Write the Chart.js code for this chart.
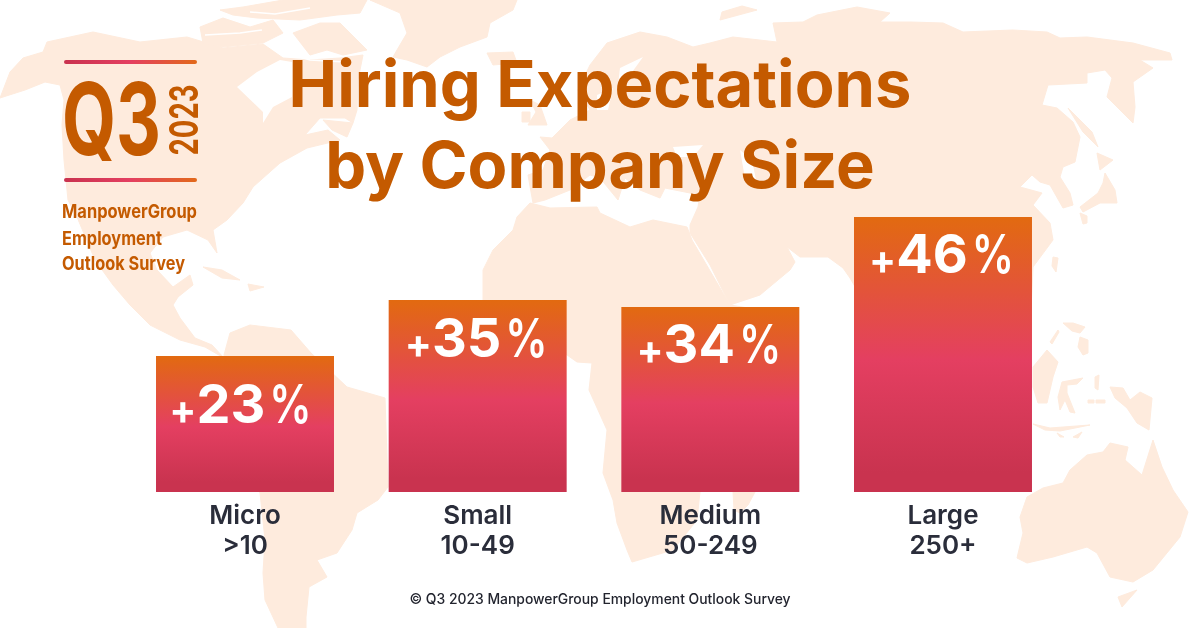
<!DOCTYPE html>
<html>
<head>
<meta charset="utf-8">
<script src="https://cdn.jsdelivr.net/npm/chart.js@4/dist/chart.umd.min.js"></script>
<style>
html,body{margin:0;padding:0;background:#fff;}
#stage{position:relative;width:1200px;height:628px;overflow:hidden;background:#fff;}
#map,#panel,#c{position:absolute;left:0;top:0;}
#panel text{font-family:Inter,sans-serif;fill:#C45A00;}
</style>
</head>
<body>
<div id="stage">
<svg id="map" width="1200" height="628" viewBox="0 0 1200 628">
  <g fill="#FEEBDD" stroke="#FEEBDD" stroke-width="1" stroke-linejoin="round">
    <!-- North America -->
    <path d="M0 98L10 72L23 58L43 52L47 42L93 32L140 42L187 37L207 43L223 48L263 44L283 58L310 60L340 58L363 55L358 80L357 110L353 123L345 118L320 118L305 135L328 130L340 140L307 148L280 163L253 187L243 203L227 220L213 230L217 253L208 240L187 230L163 237L150 253L157 270L173 287L190 275L193 285L178 297L173 305L180 318L195 338L212 345L224 358L205 347L180 340L150 325L130 305L113 285L95 260L77 217L68 200L64 160L62 125L64 100L60 85L45 82L25 90Z"/>
    <!-- Arctic islands -->
    <path d="M200 27L223 18L250 27L273 20L283 33L263 43L223 47L203 43Z"/>
    <path d="M220 10L243 7L283 0L367 0L360 13L337 15L300 20L257 18L233 15Z"/>
    <path d="M293 33L320 23L340 23L367 50L343 55L327 50L310 55Z"/>
    <path d="M370 0L517 0L513 10L490 23L487 37L460 47L440 57L427 67L407 60L393 57L397 50L407 33L400 13Z"/>
    <path d="M323 120L353 123L347 137L332 130Z"/>
    <path d="M203 267L222 270L240 280L222 278Z"/>
    <path d="M248 284L264 287L250 291Z"/>
    <!-- South America -->
    <path d="M224 355L230 333L250 325L291 330L311 353L347 387L385 398L388 487L378 500L357 513L352 530L337 553L317 560L327 577L309 587L306 617L306 628L278 628L265 600L263 573L265 540L260 493L235 440L222 400L228 375Z"/>
    <!-- Eurasia -->
    <path d="M607 43L640 32L667 37L693 47L710 43L733 37L777 42L773 23L803 22L817 15L857 7L890 13L880 22L910 22L943 23L963 32L1013 30L1047 32L1060 38L1087 37L1133 43L1170 53L1172 60L1140 60L1153 68L1133 82L1135 107L1133 123L1107 97L1112 78L1105 70L1087 73L1087 83L1048 85L1042 105L1057 108L1073 122L1080 137L1075 162L1063 167L1060 177L1070 193L1073 205L1063 208L1050 185L1040 182L1032 175L1020 187L1042 193L1033 205L1050 223L1053 240L1033 267L1030 330L950 340L880 330L850 278L843 268L828 257L800 257L787 247L795 262L790 270L760 295L730 305L710 265L690 233L690 225L698 207L700 195L665 188L660 198L640 190L625 178L618 200L600 178L590 175L570 190L545 200L533 203L528 175L543 170L550 150L540 137L552 138L570 120L590 110L578 90L590 65Z"/>
    <path d="M720 20L757 10L742 6L722 12Z"/>
    <!-- Islands near Europe -->
    <path d="M487 53L513 52L517 63L493 65Z"/>
    <path d="M530 100L540 105L547 125L528 125L536 112Z"/>
    <path d="M522 112L530 112L530 122L522 122Z"/>
    <!-- Africa -->
    <path d="M530 203L550 208L597 207L600 213L630 227L653 220L687 227L692 240L730 305L760 310L745 340L720 420L700 492L697 520L673 550L632 562L627 550L617 523L613 500L603 473L607 430L589 390L592 363L577 362L560 350L500 345L483 300L483 270L493 250L513 230L517 217Z"/>
    <path d="M733 492L755 492L748 505L740 513L734 510Z"/>
    <!-- Japan and Sakhalin -->
    <path d="M1105 173L1115 190L1117 203L1100 203L1083 212L1080 207L1098 193L1103 183Z"/>
    <path d="M1080 213L1087 216L1087 223L1083 224Z"/>
    <path d="M1097 153L1113 160L1100 170Z"/>
    <path d="M1068 108L1092 132L1098 147L1083 132Z"/>
    <!-- Taiwan, Philippines and Indonesia -->
    <path d="M1053 257L1058 258L1056 272L1052 266Z"/>
    <path d="M1063 323L1073 323L1085 327L1080 333L1072 331Z"/>
    <path d="M1080 337L1088 340L1088 353L1083 355L1078 347Z"/>
    <path d="M1033 367L1047 350L1058 362L1053 377L1047 403L1038 403L1033 387Z"/>
    <path d="M1062 382L1083 378L1077 384L1067 385L1067 393L1075 413L1070 412L1065 400L1060 410L1058 397Z"/>
    <path d="M1110 387L1123 388L1130 400L1140 392L1152 398L1149 430L1137 423L1127 408L1115 398Z"/>
    <path d="M1033 424L1050 428L1090 425L1060 431L1045 430Z"/>
    <path d="M1057 433L1064 437L1060 437Z"/>
    <path d="M1073 437L1082 432L1078 438Z"/>
    <path d="M1088 400L1094 400L1094 403L1088 403Z"/>
    <path d="M1096 400L1105 400L1105 403L1096 403Z"/>
    <path d="M1095 377L1099 375L1098 390L1095 388Z"/>
    <path d="M1050 342L1058 330L1059 332L1052 344Z"/>
    <!-- Australia and Tasmania -->
    <path d="M1027 497L1043 488L1063 483L1070 470L1087 455L1103 452L1110 443L1128 447L1125 460L1142 475L1153 440L1162 467L1173 490L1188 512L1180 537L1153 570L1133 582L1110 577L1097 553L1087 547L1053 557L1027 563L1017 558L1023 533L1020 517Z"/>
    <path d="M1118 597L1137 590L1122 607Z"/>
  </g>
  <g fill="#FFFFFF">
    <!-- Inland waters -->
    <path d="M237 87L257 72L280 60L292 62L292 97L273 107L263 123L263 112Z"/>
    <path d="M620 68L643 57L630 75L618 85Z"/>
    <path d="M597 95L613 88L608 110L597 110Z"/>
    <path d="M673 147L703 145L693 157L677 157Z"/>
    <path d="M740 150L752 160L756 180L745 178Z"/>
  </g>
  <g fill="none" stroke="#FFFFFF" stroke-width="1.5">
    <path d="M205 35L240 33L262 30"/>
    <path d="M250 12L275 14L310 8"/>
    <path d="M283 52L310 60L345 62"/>
  </g>
</svg>
<canvas id="c" width="1200" height="628"></canvas>
<svg id="panel" width="1200" height="628" viewBox="0 0 1200 628">
  <defs>
    <linearGradient id="rule" x1="0" x2="1" y1="0" y2="0">
      <stop offset="0" stop-color="#C9324F"/>
      <stop offset="0.5" stop-color="#E43F61"/>
      <stop offset="1" stop-color="#E2691A"/>
    </linearGradient>
  </defs>
  <rect x="64" y="60" width="133" height="4" rx="2" fill="url(#rule)"/>
  <rect x="64" y="178" width="133" height="4" rx="2" fill="url(#rule)"/>
  <text x="62" y="155" font-size="100" font-weight="700" textLength="99" lengthAdjust="spacingAndGlyphs">Q3</text>
  <text transform="translate(198 155.5) rotate(-90)" font-size="39" font-weight="700" textLength="71" lengthAdjust="spacingAndGlyphs">2023</text>
  <text x="62" y="218" font-size="19" font-weight="700" textLength="135" lengthAdjust="spacingAndGlyphs">ManpowerGroup</text>
  <text x="62" y="245" font-size="19" font-weight="700" textLength="100" lengthAdjust="spacingAndGlyphs">Employment</text>
  <text x="62" y="270" font-size="19" font-weight="700" textLength="123" lengthAdjust="spacingAndGlyphs">Outlook Survey</text>
</svg>
</div>
<script>
// Categories, as printed under the bars.
const sizeNames = ['Micro', 'Small', 'Medium', 'Large'];
const sizeRanges = ['>10', '10-49', '50-249', '250+'];
// Percentages as printed on the bars.
const printedValues = [23, 35, 34, 46];
// Bar lengths: the source's bars are not drawn
// in proportion to their printed values, so lengths are kept separately.
const barLengths = [22.75, 32.12, 30.95, 46];
const titleLines = ['Hiring Expectations', 'by Company Size'];
const footerText = '\u00A9 Q3 2023 ManpowerGroup Employment Outlook Survey';

const FONT = 'Inter, sans-serif';

function barFill(ctx) {
  const chart = ctx.chart;
  if (ctx.type !== 'data' || !chart.chartArea) return '#E43F61';
  const y = chart.scales.y;
  const top = y.getPixelForValue(barLengths[ctx.dataIndex]);
  const bottom = y.getPixelForValue(0);
  const g = chart.ctx.createLinearGradient(0, top, 0, bottom);
  g.addColorStop(0, '#E26A10');
  g.addColorStop(0.52, '#E43F61');
  g.addColorStop(0.93, '#C9334F');
  g.addColorStop(1, '#C9334F');
  return g;
}

const valueLabels = {
  id: 'valueLabels',
  afterDatasetsDraw(chart, args, opts) {
    const c = chart.ctx;
    const bars = chart.getDatasetMeta(0).data;
    c.save();
    c.fillStyle = '#FFFFFF';
    c.textBaseline = 'alphabetic';
    c.textAlign = 'left';
    bars.forEach((bar, i) => {
      const num = String(printedValues[i]);
      const plusFont = '700 ' + opts.plusSize + 'px ' + FONT;
      const numFont = '700 ' + opts.numSize + 'px ' + FONT;
      const pctFont = '600 ' + opts.numSize + 'px ' + FONT;
      c.font = plusFont;
      const plusW = c.measureText('+').width + opts.plusGap;
      c.font = numFont;
      const numW = c.measureText(num).width + opts.pctGap;
      c.font = pctFont;
      const pctW = c.measureText('%').width * opts.pctScale;
      const x = bar.x + opts.dx[i] - (plusW + numW + pctW) / 2;
      const base = bar.y + opts.drop[i];
      c.font = plusFont;
      c.fillText('+', x, base + opts.plusDrop);
      c.font = numFont;
      c.fillText(num, x + plusW, base);
      c.save();
      c.translate(x + plusW + numW, base);
      c.scale(opts.pctScale, 1);
      c.font = pctFont;
      c.fillText('%', 0, 0);
      c.restore();
    });
    c.restore();
  }
};

new Chart(document.getElementById('c'), {
  type: 'bar',
  data: {
    labels: sizeNames.map((n, i) => [n, sizeRanges[i]]),
    datasets: [{
      data: barLengths,
      backgroundColor: barFill,
      borderWidth: 0,
      barPercentage: 0.765,
      categoryPercentage: 1
    }]
  },
  plugins: [valueLabels],
  options: {
    responsive: false,
    animation: false,
    devicePixelRatio: 1,
    layout: { padding: { left: 128.67, right: 128.67, top: 0, bottom: 0 } },
    scales: {
      x: {
        grid: { display: false },
        border: { display: false },
        ticks: {
          color: '#2A2D3A',
          font: { family: FONT, size: 26, weight: '600', lineHeight: 30 / 26 },
          padding: 1,
          maxRotation: 0,
          autoSkip: false
        },
        afterFit(s) { s.height = 99.4; }
      },
      y: {
        position: 'right',
        min: 0,
        max: 46,
        grid: { display: false },
        border: { display: false },
        ticks: { display: false },
        afterFit(s) { s.width = 12; }
      }
    },
    plugins: {
      legend: { display: false },
      tooltip: { enabled: false },
      title: {
        display: true,
        text: titleLines,
        color: '#C45A00',
        font: { family: FONT, size: 65, weight: '700', lineHeight: 81 / 65 },
        padding: { top: 47, bottom: 8 }
      },
      subtitle: {
        display: true,
        position: 'bottom',
        text: footerText,
        color: '#22242E',
        font: { family: FONT, size: 13.9, weight: '500', lineHeight: 1.2 },
        padding: { top: 0, bottom: 20 }
      },
      valueLabels: {
        numSize: 54,
        plusSize: 40,
        plusGap: 0,
        pctGap: 4,
        pctScale: 0.78,
        plusDrop: 1,
        drop: [67, 57, 56, 56],
        dx: [-4.5, -1.5, -1.5, -1.5]
      }
    }
  }
});
</script>
</body>
</html>
